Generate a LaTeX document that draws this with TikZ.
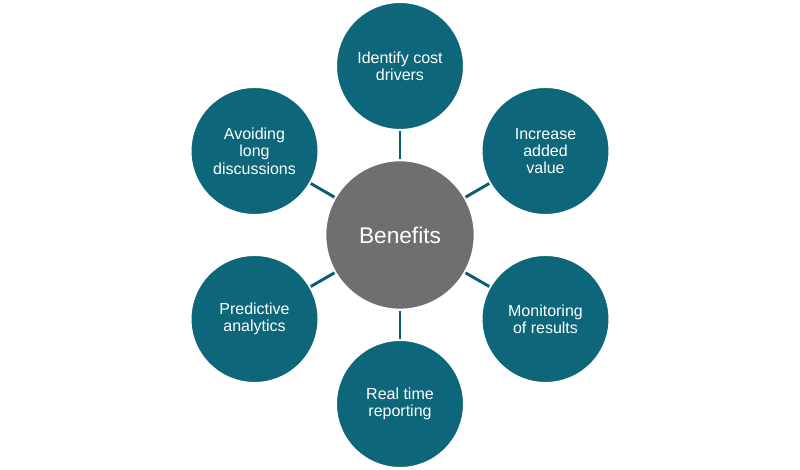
\documentclass[tikz,border=0pt]{standalone}
\usepackage{fontspec}
\setmainfont{Liberation Sans}
\usepackage{xcolor}
\definecolor{teal}{HTML}{0D6679}
\definecolor{hubgray}{HTML}{6F6F71}
\definecolor{linkteal}{HTML}{0B5E70}

\begin{document}
\begin{tikzpicture}[x=0.75pt,y=0.75pt,
  hub/.style={circle,fill=hubgray,draw=white,line width=1.5pt,minimum size=112pt,
    inner sep=0pt,text=white,font=\fontsize{17}{20}\selectfont},
  benefit/.style={circle,fill=teal,draw=white,line width=1.5pt,minimum size=96pt,
    inner sep=0pt,text=white,align=center,font=\fontsize{12}{13}\selectfont},
  link/.style={linkteal,line width=2.2pt}]
  \useasboundingbox (0,0) rectangle (800,470);

  % Hub
  \node[hub] (hub) at (400,235) {Benefits};

  % Benefits around the hub
  \node[benefit] (cost) at ([shift={(90:169)}]hub) {Identify cost\\drivers};
  \node[benefit] (value) at ([shift={(30:168)}]hub) {Increase\\added\\value};
  \node[benefit] (monitor) at ([shift={(-30:168)}]hub) {Monitoring\\of results};
  \node[benefit] (realtime) at ([shift={(-90:169)}]hub) {Real time\\reporting};
  \node[benefit] (predict) at ([shift={(210:168)}]hub) {Predictive\\analytics};
  \node[benefit] (avoid) at ([shift={(150:168)}]hub) {Avoiding\\long\\discussions};

  % Connectors
  \foreach \n in {cost,value,monitor,realtime,predict,avoid}
    \draw[link] (hub) -- (\n);
\end{tikzpicture}
\end{document}
